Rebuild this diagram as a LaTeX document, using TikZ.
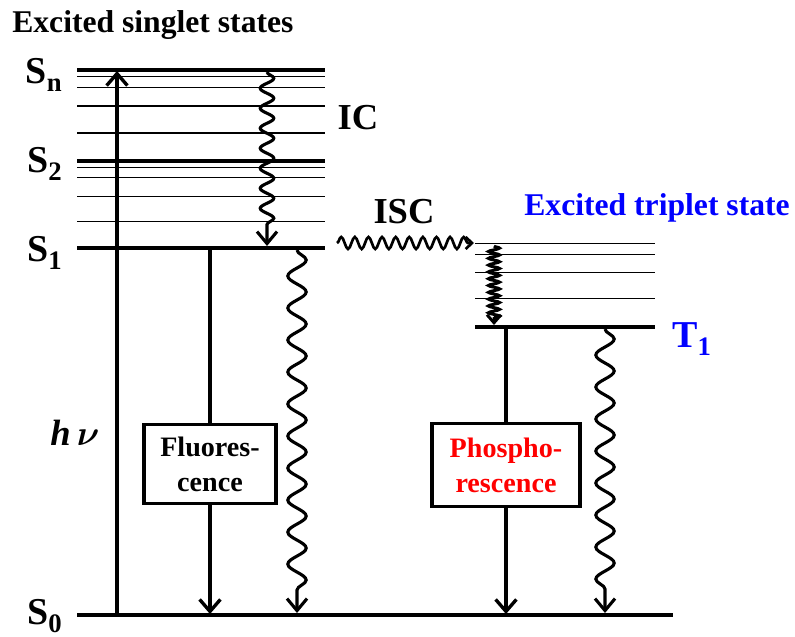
\documentclass[tikz,border=0pt]{standalone}
\usepackage{amsmath}
\usepackage{fontspec}
\setmainfont{Liberation Serif}
\usepackage{xcolor}
\definecolor{jblue}{RGB}{0,0,255}
\definecolor{jred}{RGB}{255,0,0}
\usepackage{tikz}
\usetikzlibrary{arrows.meta, decorations.pathmorphing}

\newcommand{\statelbl}[2]{#1\raisebox{-6pt}{\fontsize{19}{19}\selectfont #2}}

\tikzset{
  level/.style={line width=2.6pt},
  sublevel/.style={line width=1pt},
  radline/.style={line width=2.8pt},
  radarrow/.style={line width=2.4pt, -{Straight Barb[length=3mm,width=5.2mm]}},
  wavearrow/.style={line width=2.2pt, -{Straight Barb[length=3mm,width=5mm]}, decorate},
  emitbox/.style={draw, line width=2.3pt, align=center, inner sep=0pt,
    font=\fontsize{20}{25}\selectfont\bfseries},
  statelabel/.style={inner sep=0pt, font=\fontsize{27}{30}\selectfont\bfseries},
  biglabel/.style={inner sep=0pt, font=\fontsize{26}{30}\selectfont\bfseries},
}

\begin{document}
\begin{tikzpicture}[x=0.025cm, y=-0.025cm]
  \useasboundingbox (0,0) rectangle (795,637);

  % --- Singlet manifold ---
  \node[inner sep=0pt, anchor=base west, font=\fontsize{22.5}{26}\selectfont\bfseries] (singlet) at (12,33) {Excited singlet states};
  \foreach \y in {70,160.7,247.7}
    \draw[level] (77,\y) -- (325,\y);
  \foreach \y in {76.7,87.7,106,133,167.7,177.7,196.7,221.7}
    \draw[sublevel] (77,\y) -- (325,\y);

  \node[statelabel, anchor=base east] (sn) at (62,83) {\statelbl{S}{n}};
  \node[statelabel, anchor=base east] (s2) at (62,172) {\statelbl{S}{2}};
  \node[statelabel, anchor=base east] (s1) at (62,261) {\statelbl{S}{1}};
  \node[statelabel, anchor=base east] (s0) at (62,624) {\statelbl{S}{0}};

  % ground state
  \draw[level] (77,615) -- (673,615);

  % --- Triplet manifold ---
  \node[inner sep=0pt, jblue, font=\fontsize{22.5}{26}\selectfont\bfseries] (triplet) at (657,208) {Excited triplet state};
  \foreach \y in {243.3,254.3,272.7,298.3}
    \draw[sublevel] (475,\y) -- (655,\y);
  \draw[level] (475,326.7) -- (655,326.7);
  \node[statelabel, jblue, anchor=base west] (t1) at (672,347) {\statelbl{T}{1}};

  % --- Absorption ---
  \coordinate (exc0) at (117,615);
  \coordinate (excn) at (117,71);
  \draw[radarrow] (exc0) -- (excn);
  \node[inner sep=0pt, font=\fontsize{26}{30}\selectfont\bfseries\itshape] (hnu) at (75,433) {h\,$\boldsymbol{\nu}$};

  % --- Internal conversion ---
  \coordinate (ic-a) at (267,72);
  \coordinate (ic-b) at (267,246);
  \draw[wavearrow, decoration={snake, amplitude=1.7mm, segment length=5mm, post length=3mm}] (ic-a) -- (ic-b);
  \node[biglabel] (ic) at (358,118) {IC};

  \coordinate (ns1-a) at (297,250);
  \coordinate (ns1-b) at (297,613);
  \draw[wavearrow, decoration={snake, amplitude=2.3mm, segment length=8mm, post length=5mm}] (ns1-a) -- (ns1-b);

  % --- Intersystem crossing ---
  \coordinate (isc-a) at (337,243);
  \coordinate (isc-b) at (474,243);
  \draw[line width=1.9pt, -{Straight Barb[length=1.6mm,width=3mm]}, decorate,
    decoration={snake, amplitude=1.5mm, segment length=3.4mm, post length=1mm}] (isc-a) -- (isc-b);
  \node[biglabel] (isc) at (404,212) {ISC};

  \coordinate (tr-a) at (494,246);
  \coordinate (tr-b) at (494,325);
  \draw[line width=2.1pt, -{Straight Barb[length=2mm,width=3.5mm]}, decorate,
    decoration={snake, amplitude=1.4mm, segment length=1.7mm, post length=1.5mm}] (tr-a) -- (tr-b);

  % --- Fluorescence ---
  \node[emitbox, minimum width=3.3cm, minimum height=1.98cm] (fluo) at (210,464) {Fluores-\\cence};
  \coordinate (fl1) at (210,248);
  \coordinate (fl0) at (210,614);
  \draw[radline] (fl1) -- (fluo.north);
  \draw[radarrow] (fluo.south) -- (fl0);

  % --- Phosphorescence ---
  \node[emitbox, text=jred, minimum width=3.7cm, minimum height=2.08cm] (phos) at (506,465) {Phospho-\\rescence};
  \coordinate (ph1) at (506,327);
  \coordinate (ph0) at (506,614);
  \draw[radline] (ph1) -- (phos.north);
  \draw[radarrow] (phos.south) -- (ph0);

  \coordinate (nt1-a) at (605,329);
  \coordinate (nt1-b) at (605,613);
  \draw[wavearrow, decoration={snake, amplitude=2.3mm, segment length=8mm, post length=5mm}] (nt1-a) -- (nt1-b);
\end{tikzpicture}
\end{document}
